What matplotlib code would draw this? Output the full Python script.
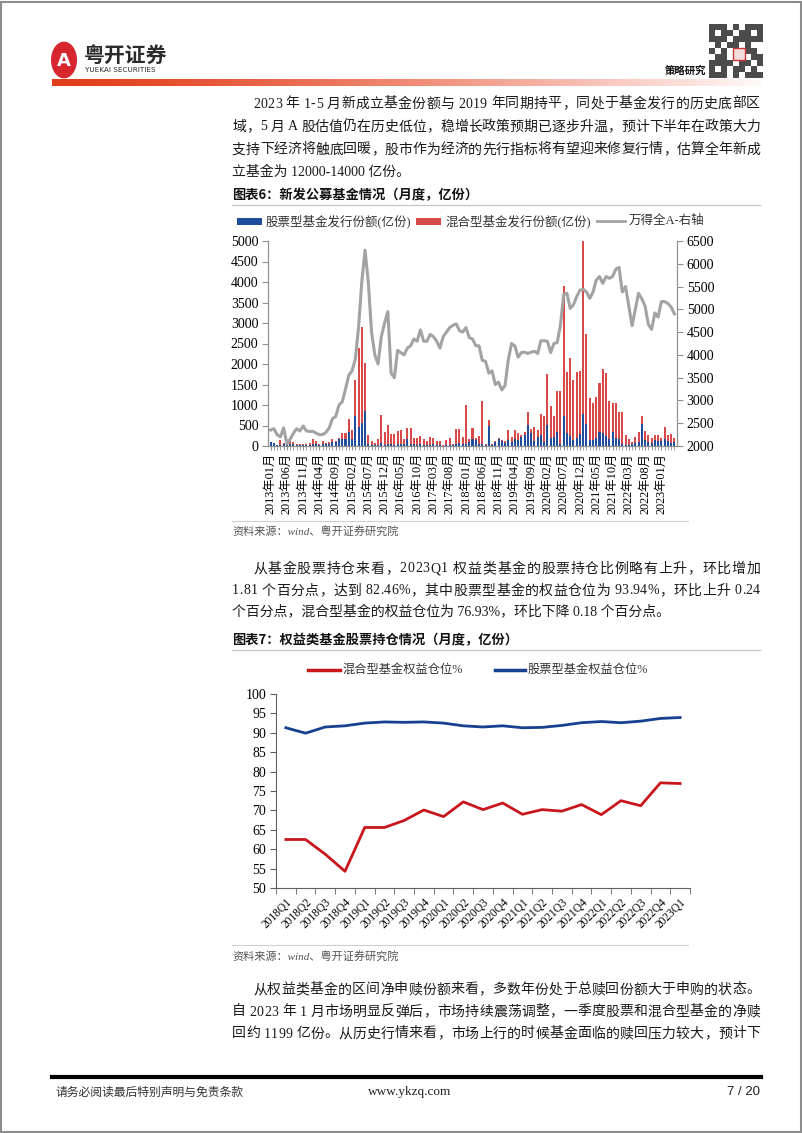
import numpy as np
import matplotlib
matplotlib.use("Agg")
import matplotlib.pyplot as plt
from matplotlib.patches import Rectangle, Circle

# ==========================================================
# DATA
# ==========================================================

# chart 6: monthly new fund issuance (亿份), 2013-01 .. 2023-05
stock_issue = [
    90, 80, 20, 30, 40, 30, 60, 50, 20, 30, 20, 30, 30, 50, 40, 30, 60, 50, 60, 100,
    90, 170, 160, 170, 340, 180, 740, 470, 560, 860, 60, 20, 20, 30, 80, 30, 50, 40, 30, 60,
    40, 40, 160, 60, 40, 30, 40, 30, 20, 30, 40, 20, 30, 10, 20, 30, 20, 60, 70, 60,
    60, 100, 160, 140, 50, 40, 20, 490, 20, 100, 160, 130, 80, 140, 90, 180, 140, 220, 280, 520,
    310, 130, 230, 260, 90, 520, 200, 210, 350, 60, 730, 310, 250, 150, 200, 290, 790, 540, 150, 140,
    200, 350, 310, 250, 180, 350, 200, 180, 50, 30, 20, 60, 70, 90, 540, 150, 100, 70, 140, 130,
    120, 170, 120, 80, 100,
]

mixed_issue = [
    10, 0, 10, 120, 40, 20, 60, 50, 20, 20, 20, 30, 50, 120, 80, 30, 60, 30, 40, 70,
    30, 30, 160, 150, 310, 200, 860, 1930, 2340, 1170, 220, 110, 60, 140, 670, 320, 460, 260, 270, 300,
    340, 140, 280, 380, 160, 170, 210, 150, 100, 190, 160, 100, 100, 20, 130, 170, 40, 360, 350, 170,
    940, 80, 290, 60, 200, 1060, 30, 140, 30, 30, 40, 20, 50, 260, 130, 210, 170, 60, 70, 300,
    100, 340, 150, 520, 640, 1230, 780, 530, 980, 1270, 3170, 1500, 1900, 1470, 1600, 1540, 4210, 2180, 1030, 900,
    1000, 1190, 1570, 1540, 920, 700, 850, 640, 770, 250, 160, 40, 160, 260, 200, 220, 160, 130, 130, 130,
    80, 290, 160, 220, 100,
]

wind_all_a = [
    2350, 2380, 2250, 2200, 2400, 2050, 2150, 2280, 2380, 2330, 2440, 2330, 2320, 2320, 2280, 2250, 2250, 2300, 2400, 2600,
    2650, 2900, 2970, 3250, 3550, 3650, 3900, 4600, 5600, 6300, 5600, 4500, 4000, 3800, 4400, 4700, 4950, 3600, 3500, 4100,
    4050, 4000, 4150, 4200, 4350, 4300, 4550, 4300, 4300, 4450, 4400, 4300, 4150, 4400, 4500, 4600, 4650, 4680, 4530, 4500,
    4600, 4380, 4350, 4200, 4200, 3880, 3860, 3600, 3650, 3350, 3400, 3230, 3330, 3900, 4250, 4200, 3950, 4050, 4060, 4030,
    4060, 4080, 4030, 4310, 4310, 4300, 4050, 4250, 4270, 4650, 5330, 5350, 5020, 5100, 5280, 5420, 5440, 5380, 5240, 5380,
    5640, 5720, 5570, 5720, 5680, 5720, 5880, 5920, 5380, 5500, 5070, 4640, 5000, 5350, 5230, 5070, 4670, 4560, 4920, 4830,
    5170, 5170, 5130, 5050, 4900,
]

months = [f"{2013 + k // 12}年{k % 12 + 1:02d}月" for k in range(len(stock_issue))]

# chart 7: quarterly equity allocation (%)
quarters = [
    "2018Q1", "2018Q2", "2018Q3", "2018Q4", "2019Q1", "2019Q2", "2019Q3", "2019Q4",
    "2020Q1", "2020Q2", "2020Q3", "2020Q4", "2021Q1", "2021Q2", "2021Q3", "2021Q4",
    "2022Q1", "2022Q2", "2022Q3", "2022Q4", "2023Q1",
]

mixed_pos = [62.5, 62.5, 58.7, 54.3, 65.6, 65.6, 67.4, 70.1, 68.4, 72.2, 70.2,
             71.9, 69.0, 70.2, 69.8, 71.5, 68.9, 72.5, 71.2, 77.1, 76.93]

stock_pos = [91.3, 89.9, 91.5, 91.8, 92.5, 92.8, 92.7, 92.8, 92.5, 91.8, 91.5,
             91.8, 91.3, 91.4, 91.9, 92.6, 92.9, 92.6, 93.0, 93.7, 93.94]

# body paragraphs: (x, y, text, justify)
para1 = [
    (253, 104, "2023 年 1-5 月新成立基金份额与 2019 年同期持平，同处于基金发行的历史底部区", True),
    (232, 127, "域，5 月 A 股估值仍在历史低位，稳增长政策预期已逐步升温，预计下半年在政策大力", True),
    (232, 150, "支持下经济将触底回暖，股市作为经济的先行指标将有望迎来修复行情，估算全年新成", True),
    (232, 172, "立基金为 12000-14000 亿份。", False),
]

para2 = [
    (253, 569, "从基金股票持仓来看，2023Q1 权益类基金的股票持仓比例略有上升，环比增加", True),
    (232, 591, "1.81 个百分点，达到 82.46%，其中股票型基金的权益仓位为 93.94%，环比上升 0.24", True),
    (232, 612, "个百分点，混合型基金的权益仓位为 76.93%，环比下降 0.18 个百分点。", False),
]

para3 = [
    (253, 990, "从权益类基金的区间净申赎份额来看，多数年份处于总赎回份额大于申购的状态。", True),
    (232, 1012, "自 2023 年 1 月市场明显反弹后，市场持续震荡调整，一季度股票和混合型基金的净赎", True),
    (232, 1034, "回约 1199 亿份。从历史行情来看，市场上行的时候基金面临的赎回压力较大，预计下", True),
]

# ==========================================================
# PAGE SETUP
# ==========================================================

W, H = 802, 1133
SERIF = ["Liberation Serif", "Noto Sans CJK SC"]
SANS = ["Noto Sans CJK SC", "DejaVu Sans"]

plt.rcParams["font.family"] = SERIF

fig = plt.figure(figsize=(W / 100, H / 100), dpi=100)
renderer = fig.canvas.get_renderer()


def fx(x):
    return x / W


def fy(y):
    return 1 - y / H


def box(x0, y0, x1, y1):
    return [fx(x0), fy(y1), (x1 - x0) / W, (y1 - y0) / H]


def put(x, y, s, size=10, family=SERIF, **kw):
    return fig.text(fx(x), fy(y), s, fontsize=size, family=family,
                    va="center", **kw)


def put_justified(x, y, s, right=760, size=10, **kw):
    # lay out glyph by glyph so the line fills the column
    widths = []
    for ch in s:
        if ch == " ":
            widths.append(size * 100 / 72 * 0.25)
            continue
        t = put(0, 0, ch, size=size, **kw)
        widths.append(t.get_window_extent(renderer).width)
        t.remove()
    gap = (right - x - sum(widths)) / max(len(s) - 1, 1)
    cx = x
    for ch, w in zip(s, widths):
        if ch != " ":
            put(cx, y, ch, size=size, **kw)
        cx += w + gap


# page border
fig.patches.append(Rectangle((0.001, 0.001), 0.998, 0.997, transform=fig.transFigure,
                             fill=False, edgecolor="#8c8c8c", lw=1.5))

# ==========================================================
# HEADER
# ==========================================================

fig.patches.append(Circle((fx(64), fy(60)), 13 / W, transform=fig.transFigure,
                          facecolor="#d7262e", edgecolor="none"))
put(64, 61, "A", size=13, family=["DejaVu Sans"], color="white",
    ha="center", weight="bold")
put(84, 55, "粤开证券", size=15, family=SANS, color="#2b2b2b", weight="bold")
put(85, 70, "YUEKAI SECURITIES", size=5.2, family=["DejaVu Sans"], color="#2b2b2b")
put(706, 71, "策略研究", size=7.5, family=SANS, color="#111111",
    ha="right", weight="bold")

# qr block
qr = fig.add_axes(box(709, 22, 763, 80))
qr_bits = np.array([
    [1, 1, 1, 0, 1, 0, 1, 1, 1],
    [1, 0, 1, 1, 0, 1, 1, 0, 1],
    [1, 1, 1, 0, 1, 1, 1, 1, 1],
    [0, 1, 0, 1, 1, 0, 1, 0, 0],
    [1, 0, 1, 0, 0, 0, 1, 1, 0],
    [0, 1, 1, 0, 0, 1, 0, 1, 1],
    [1, 1, 1, 1, 0, 1, 1, 0, 1],
    [1, 0, 1, 0, 1, 1, 0, 1, 0],
    [1, 1, 1, 0, 1, 0, 1, 1, 1],
])
qr.imshow(qr_bits, cmap="Greys", interpolation="nearest", vmin=0, vmax=1.3)
qr.add_patch(Rectangle((3.5, 3.5), 2, 2, facecolor="#f3dede", edgecolor="#c33"))
qr.axis("off")

# gradient rule
grad = fig.add_axes(box(52, 79, 762, 86))
g = np.linspace(0, 1, 300)
rgb = np.zeros((1, 300, 3))
rgb[0, :, 0] = 0.88 + 0.12 * g
rgb[0, :, 1] = 0.24 + 0.74 * g ** 1.3
rgb[0, :, 2] = 0.10 + 0.88 * g ** 1.3
grad.imshow(rgb, aspect="auto", extent=(0, 1, 0, 1))
grad.axis("off")

# ==========================================================
# BODY TEXT
# ==========================================================

for x, y, s, just in para1 + para2 + para3:
    if just:
        put_justified(x, y, s, size=10, color="#1a1a1a")
    else:
        put(x, y, s, size=10, color="#1a1a1a")

# chart titles
put(232, 195, "图表6：新发公募基金情况（月度，亿份）", size=9.5, family=SANS,
    weight="bold", color="#111111")
put(232, 640, "图表7：权益类基金股票持仓情况（月度，亿份）", size=9.5, family=SANS,
    weight="bold", color="#111111")

for y in (205, 650):
    fig.lines.append(plt.Line2D([fx(232), fx(760)], [fy(y), fy(y)],
                                transform=fig.transFigure, color="#c8c8c8", lw=1))

for y in (521, 945):
    fig.lines.append(plt.Line2D([fx(232), fx(688)], [fy(y), fy(y)],
                                transform=fig.transFigure, color="#cfcfcf", lw=0.8))

put(232, 531, "资料来源：wind、粤开证券研究院", size=8, color="#555555", style="italic")
put(232, 956, "资料来源：wind、粤开证券研究院", size=8, color="#555555", style="italic")

# ==========================================================
# CHART 6: NEW FUND ISSUANCE
# ==========================================================

BLUE = "#1f4d9c"
RED = "#d84a4a"
GRAY = "#a3a3a3"

ax1 = fig.add_axes(box(268, 241, 677, 446))
x = np.arange(len(stock_issue))

ax1.bar(x, stock_issue, width=0.62, color=BLUE, linewidth=0)
ax1.bar(x, mixed_issue, width=0.62, bottom=stock_issue, color=RED, linewidth=0)

ax1.set_ylim(0, 5000)
ax1.set_yticks(np.arange(0, 5001, 500))
ax1.set_xlim(-0.8, len(x) - 0.2)
ax1.set_xticks(x, minor=True)
ax1.set_xticks(x[::5])
ax1.set_xticklabels([months[i] for i in x[::5]], rotation=90, fontsize=8.8)
ax1.tick_params(axis="x", which="both", length=3, color="#909090", pad=2)
ax1.tick_params(axis="y", length=4, color="#909090", labelsize=10, pad=3)

ax1r = ax1.twinx()
ax1r.plot(x, wind_all_a, color=GRAY, lw=2.2)
ax1r.set_ylim(2000, 6500)
ax1r.set_yticks(np.arange(2000, 6501, 500))
ax1r.tick_params(axis="y", length=4, color="#909090", labelsize=10, pad=3)

for a in (ax1, ax1r):
    a.spines["top"].set_visible(False)
    for s in ("left", "right", "bottom"):
        a.spines[s].set_color("#909090")

# legend row
fig.patches.append(Rectangle((fx(237), fy(225)), 25 / W, 7 / H, transform=fig.transFigure,
                             facecolor=BLUE, edgecolor="none"))
put(266, 221, "股票型基金发行份额(亿份)", size=9, color="#333333")
fig.patches.append(Rectangle((fx(416), fy(225)), 25 / W, 7 / H, transform=fig.transFigure,
                             facecolor=RED, edgecolor="none"))
put(446, 221, "混合型基金发行份额(亿份)", size=9, color="#333333")
fig.lines.append(plt.Line2D([fx(597), fx(625)], [fy(221), fy(221)],
                            transform=fig.transFigure, color=GRAY, lw=2))
put(629, 221, "万得全A-右轴", size=9, color="#333333")

# ==========================================================
# CHART 7: EQUITY POSITION
# ==========================================================

ax2 = fig.add_axes(box(276, 694, 690, 888))
q = np.arange(len(quarters))

ax2.plot(q, mixed_pos, color="#c8161d", lw=2)
ax2.plot(q, stock_pos, color="#15418f", lw=2)

ax2.set_ylim(50, 100)
ax2.set_yticks(np.arange(50, 101, 5))
ax2.set_xlim(-0.5, len(q) - 0.5)
ax2.set_xticks(q)
ax2.set_xticklabels(quarters, rotation=45, ha="right", rotation_mode="anchor",
                    fontsize=8.3)
ax2.set_xticks(np.arange(-0.5, len(q)), minor=True)
ax2.tick_params(axis="x", which="major", length=0, pad=6)
ax2.tick_params(axis="x", which="minor", length=4, color="#606060")
ax2.tick_params(axis="y", length=4, color="#606060", labelsize=10, pad=3)

ax2.spines["top"].set_visible(False)
ax2.spines["right"].set_visible(False)
ax2.spines["left"].set_color("#606060")
ax2.spines["bottom"].set_color("#606060")

fig.lines.append(plt.Line2D([fx(308), fx(340)], [fy(670), fy(670)],
                            transform=fig.transFigure, color="#c8161d", lw=2.5))
put(343, 670, "混合型基金权益仓位%", size=8.8, color="#333333")
fig.lines.append(plt.Line2D([fx(495), fx(525)], [fy(670), fy(670)],
                            transform=fig.transFigure, color="#15418f", lw=2.5))
put(528, 670, "股票型基金权益仓位%", size=8.8, color="#333333")

# ==========================================================
# FOOTER
# ==========================================================

fig.lines.append(plt.Line2D([fx(52), fx(761)], [fy(1077), fy(1077)],
                            transform=fig.transFigure, color="#000000", lw=3))
put(55, 1092, "请务必阅读最后特别声明与免责条款", size=8.5, family=SANS, color="#333333")
put(410, 1092, "www.ykzq.com", size=9.5, color="#222222", ha="center")
put(760, 1092, "7 / 20", size=9.5, family=["Liberation Sans"], color="#222222", ha="right")

fig.savefig("out.png", dpi=100)
